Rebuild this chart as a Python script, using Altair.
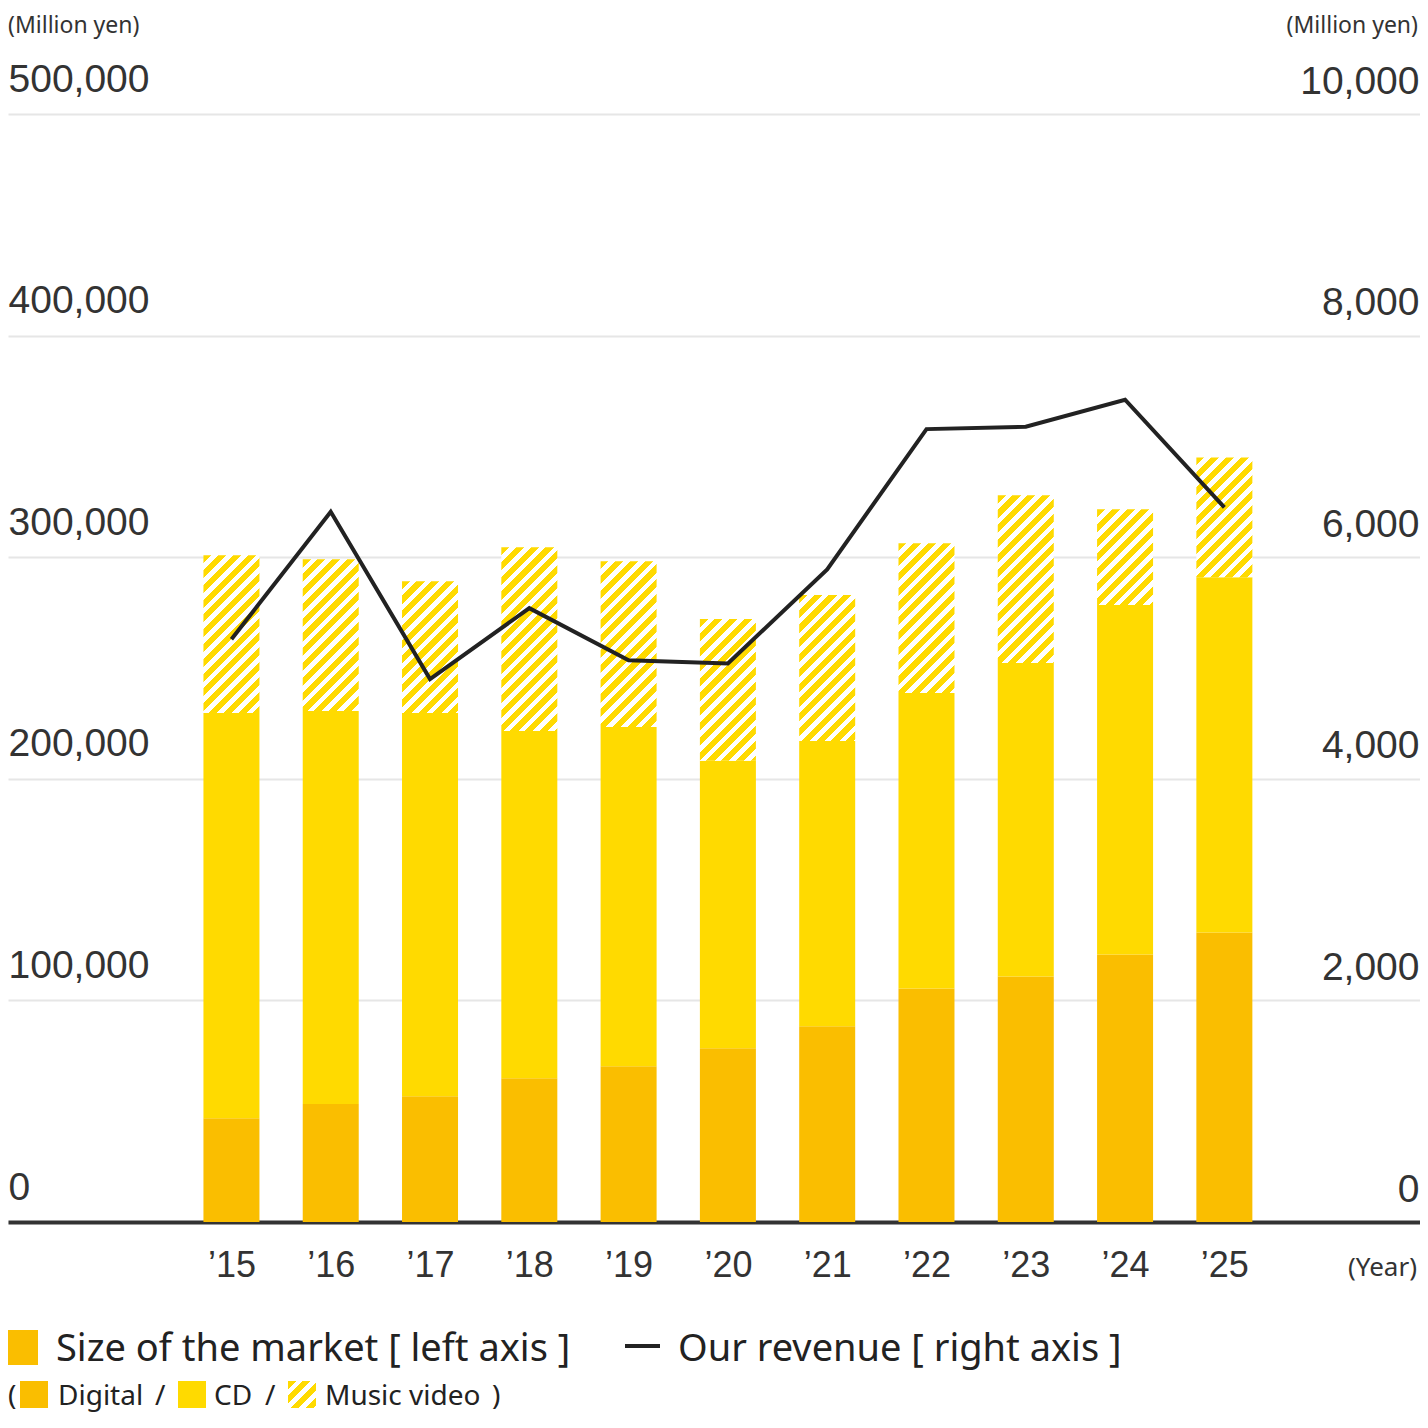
import altair as alt
import pandas as pd

# ---------------- data ----------------
years = [2015, 2016, 2017, 2018, 2019, 2020, 2021, 2022, 2023, 2024, 2025]
digital = [46800, 53200, 56800, 64900, 70300, 78400, 88300, 105400, 110800, 120700, 130600]
cd = [182900, 177400, 172900, 156700, 153100, 129700, 128800, 133300, 141500, 157700, 160400]
music_video = [71200, 68500, 59500, 82900, 74800, 64000, 65800, 67600, 75600, 43200, 54000]
revenue = [5260, 6410, 4900, 5540, 5070, 5040, 5890, 7156, 7177, 7421, 6450]

left_ticks = [0, 100000, 200000, 300000, 400000, 500000]
right_ticks = [0, 2000, 4000, 6000, 8000, 10000]

unit_label = "(Million yen)"
year_label = "(Year)"
legend_market = "Size of the market [ left axis ]"
legend_revenue = "Our revenue [ right axis ]"

# ---------------- layout / style ----------------
W, H = 1412, 1214
TOTAL_H = 1404
TOP_PX = 1108                      # pixel distance from 0 to the top tick
LEFT_MAX = 500000 * H / TOP_PX
RIGHT_MAX = 10000 * H / TOP_PX
BAR_W = 56
C_DIGITAL = "#FABE00"
C_CD = "#FFDA00"
C_LINE = "#222222"
NUM_FONT = "Liberation Sans"
TXT_FONT = "Noto Sans"

df = pd.DataFrame({"year": years, "digital": digital, "cd": cd, "mv": music_video})
df["zero"] = 0
df["d_top"] = df["digital"]
df["c_top"] = df["digital"] + df["cd"]
df["m_top"] = df["c_top"] + df["mv"]
rev_df = pd.DataFrame({"year": years, "revenue": revenue})

xscale = alt.Scale(domain=[2012.8, 2012.8 + W / 100.0], nice=False, zero=False)
yscale = alt.Scale(domain=[0, LEFT_MAX], nice=False, zero=False)

x_axis = alt.Axis(
    values=years, labelExpr="'\u2019' + substring(toString(datum.value), 2, 4)",
    ticks=False, tickSize=0, grid=False, domain=True, domainColor="#333333",
    domainWidth=4, labelFontSize=36, labelFont=NUM_FONT, labelColor="#333333",
    labelPadding=54, labelBaseline="alphabetic", labelFlush=False, title=None,
    orient="bottom")

left_axis = alt.Axis(
    values=left_ticks, format=",.0f", orient="left", grid=True, gridColor="#e6e6e6",
    gridWidth=2, domain=False, ticks=False, tickSize=0, labelAlign="left",
    labelBaseline="alphabetic", labelPadding=0, labelOffset=-23, labelFontSize=39,
    labelFont=NUM_FONT, labelColor="#333333", title=None, labelFlush=False)

right_axis = alt.Axis(
    values=right_ticks, format=",.0f", orient="right", grid=False, domain=False,
    ticks=False, tickSize=0, labelAlign="right", labelBaseline="alphabetic",
    labelPadding=-1, labelOffset=-21, labelFontSize=39, labelFont=NUM_FONT,
    labelColor="#333333", title=None, labelFlush=False)


def hatch(w, h, period=14.8, frac=0.55, c1=C_CD, c2="#FFFFFF"):
    """Diagonal '/' stripes as a hard-stop linear gradient (bounding-box units)."""
    span = w + h
    q = period / span
    stops = []
    k = 0
    while k * q < 1:
        a = k * q
        b = min((k + frac) * q, 1.0)
        e = min((k + 1) * q, 1.0)
        stops += [{"offset": a, "color": c1}, {"offset": b, "color": c1},
                  {"offset": b, "color": c2}, {"offset": e, "color": c2}]
        k += 1
    cc = span / (w * w + h * h)
    return {"gradient": "linear", "x1": 0, "y1": 0, "x2": cc * w, "y2": cc * h,
            "stops": stops}


X = alt.X("year:Q", scale=xscale, axis=x_axis)

base = alt.Chart(df)
digital_bars = base.mark_bar(width=BAR_W, color=C_DIGITAL).encode(
    x=X, y=alt.Y("zero:Q", scale=yscale, axis=left_axis), y2="d_top:Q")
cd_bars = base.mark_bar(width=BAR_W, color=C_CD).encode(
    x=X, y=alt.Y("d_top:Q", scale=yscale, axis=left_axis), y2="c_top:Q")

mv_layers = []
for yr, mv in zip(years, music_video):
    hpx = mv * TOP_PX / 500000
    mv_layers.append(
        base.transform_filter(alt.datum.year == yr)
        .mark_bar(width=BAR_W, fill=hatch(BAR_W, hpx), strokeWidth=0)
        .encode(x=X, y=alt.Y("c_top:Q", scale=yscale, axis=left_axis),
                y2="m_top:Q"))

bars = alt.layer(digital_bars, cd_bars, *mv_layers)

line = alt.Chart(rev_df).mark_line(
    color=C_LINE, strokeWidth=4, strokeJoin="miter", strokeCap="butt").encode(
    x=X,
    y=alt.Y("revenue:Q", scale=alt.Scale(domain=[0, RIGHT_MAX], nice=False, zero=False),
            axis=right_axis))

one = pd.DataFrame({"k": [0]})


def txt(s, x, y, size, align="left", font=TXT_FONT, color="#222222"):
    return alt.Chart(one).mark_text(
        text=s, align=align, baseline="alphabetic", font=font, fontSize=size,
        color=color).encode(x=alt.value(x), y=alt.value(y))


def box(x, x2, y, y2, fill):
    return alt.Chart(one).mark_rect(fill=fill, strokeWidth=0).encode(
        x=alt.value(x), x2=alt.value(x2), y=alt.value(y), y2=alt.value(y2))


annotations = [
    txt(unit_label, 0, 25, 23, color="#333333"),
    txt(unit_label, W - 2, 25, 23, align="right", color="#333333"),
    txt(year_label, W - 3, 1268, 26, align="right", color="#333333"),
    # legend row 1
    box(0, 30, 1322, 1357, C_DIGITAL),
    txt(legend_market, 48, 1353, 38),
    alt.Chart(one).mark_rule(color=C_LINE, strokeWidth=4).encode(
        x=alt.value(617), x2=alt.value(652), y=alt.value(1338)),
    txt(legend_revenue, 670, 1353, 38),
    # legend row 2
    txt("(", 0, 1397, 28),
    box(12, 40, 1373, 1400, C_DIGITAL),
    txt("Digital", 50, 1397, 28),
    txt("/", 147, 1397, 28),
    box(170, 198, 1373, 1400, C_CD),
    txt("CD", 206, 1397, 28),
    txt("/", 257, 1397, 28),
    box(280, 308, 1373, 1400, hatch(28, 27, period=14.8)),
    txt("Music video", 317, 1397, 28),
    txt(")", 484, 1397, 28),
]

chart = alt.layer(bars, line, *annotations).resolve_scale(y="independent").properties(
    width=W, height=H,
    padding={"left": 0, "top": 0, "right": 0, "bottom": TOTAL_H - H},
    autosize=alt.AutoSizeParams(type="none"),
    background="#ffffff",
).configure_view(stroke=None)

chart.save("out.html", embed_options={"renderer": "svg", "actions": False})
